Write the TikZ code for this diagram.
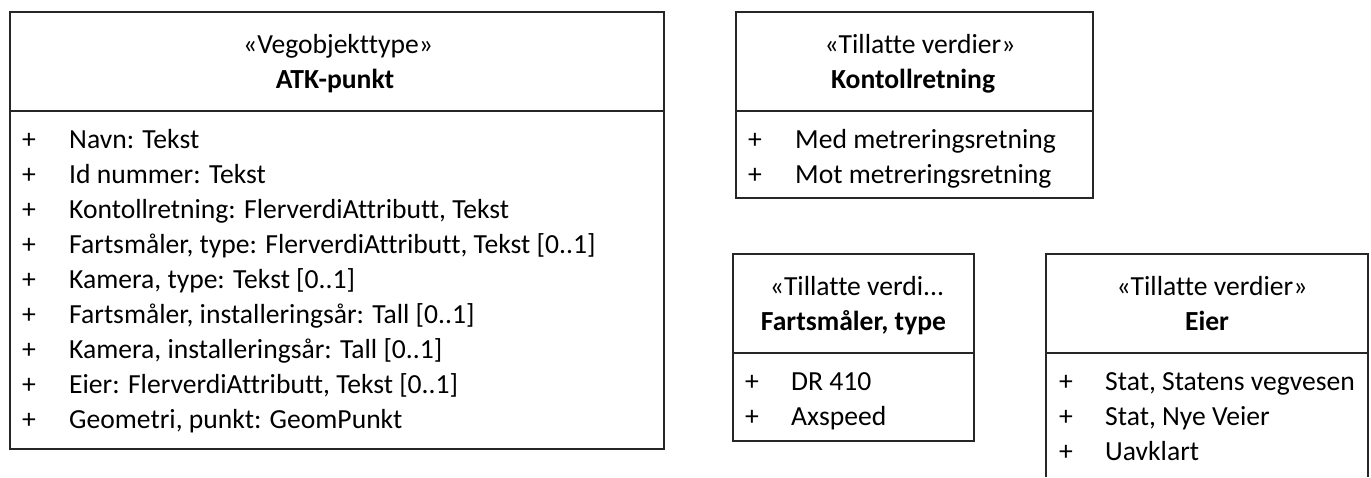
\documentclass[tikz,border=0pt]{standalone}
\usepackage{fontspec}
\setmainfont[Ligatures={NoCommon}]{Carlito}
\begin{document}
\begin{tikzpicture}[x=1pt,y=-1pt,
  box/.style={draw=black!85, line width=1.2pt},
  txt/.style={inner sep=0pt, anchor=base west, font=\fontsize{27.6}{32}\selectfont},
  ctr/.style={inner sep=0pt, anchor=base, font=\fontsize{27.6}{32}\selectfont},
  ctrb/.style={inner sep=0pt, anchor=base, font=\fontsize{27.6}{32}\selectfont\bfseries},
  plus/.style={inner sep=0pt, anchor=base, font=\fontsize{27.6}{32}\selectfont}]
\useasboundingbox (0,0) rectangle (1371,477);
% ATK-punkt
\draw[box] (10,12) rectangle (664,449);
\draw[box] (10,111) -- (664,111);
\node[ctr] (atks) at (338,53) {«Vegobjekttype»};
\node[ctrb] (atkn) at (335,88) {ATK-punkt};
\foreach \t [count=\i] in {Navn: Tekst, Id nummer: Tekst, {Kontollretning: FlerverdiAttributt, Tekst}, {Fartsmåler, type: FlerverdiAttributt, Tekst [0..1]}, {Kamera, type: Tekst [0..1]}, {Fartsmåler, installeringsår: Tall [0..1]}, {Kamera, installeringsår: Tall [0..1]}, {Eier: FlerverdiAttributt, Tekst [0..1]}, {Geometri, punkt: GeomPunkt}}{
  \node[plus] (ap\i) at (29,113+35*\i) {+};
  \node[txt] (at\i) at (69,113+35*\i) {\t};
}
% Kontollretning
\draw[box] (736,12) rectangle (1093,198);
\draw[box] (736,111) -- (1093,111);
\node[ctr] (ks) at (920,53) {«Tillatte verdier»};
\node[ctrb] (kn) at (913,88) {Kontollretning};
\foreach \t [count=\i] in {Med metreringsretning, Mot metreringsretning}{
  \node[plus] (kp\i) at (755,113+35*\i) {+};
  \node[txt] (kt\i) at (795,113+35*\i) {\t};
}
% Fartsmåler, type
\draw[box] (733,254) rectangle (974,441);
\draw[box] (733,353) -- (974,353);
\node[ctr] (fs) at (857,295) {«Tillatte verdi...};
\node[ctrb] (fn) at (853.5,330) {Fartsmåler, type};
\foreach \t [count=\i] in {DR 410, Axspeed}{
  \node[plus] (fp\i) at (752,355+35*\i) {+};
  \node[txt] (ft\i) at (791,355+35*\i) {\t};
}
% Eier
\draw[box] (1046,477) -- (1046,254) -- (1368,254) -- (1368,477);
\draw[box] (1046,353) -- (1368,353);
\node[ctr] (es) at (1212,295) {«Tillatte verdier»};
\node[ctrb] (en) at (1207,330) {Eier};
\foreach \t [count=\i] in {{Stat, Statens vegvesen}, {Stat, Nye Veier}, Uavklart}{
  \node[plus] (ep\i) at (1066,355+35*\i) {+};
  \node[txt] (et\i) at (1105,355+35*\i) {\t};
}
\end{tikzpicture}
\end{document}
